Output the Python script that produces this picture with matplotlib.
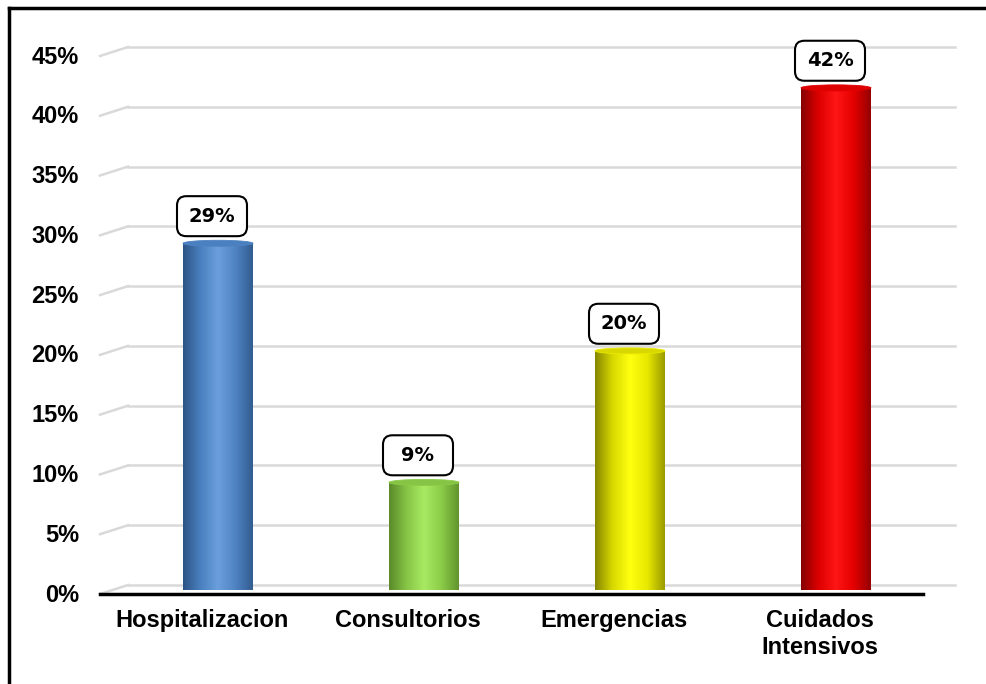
import numpy as np
import matplotlib
matplotlib.use('Agg')
from matplotlib import pyplot
from matplotlib.patches import FancyBboxPatch, Ellipse, Rectangle
from matplotlib.colors import LinearSegmentedColormap
from matplotlib.lines import Line2D

categories = ['Hospitalizacion', 'Consultorios', 'Emergencias', 'Cuidados\nIntensivos']
values = [29, 9, 20, 42]
labels = ['29%', '9%', '20%', '42%']
yticks = [0, 5, 10, 15, 20, 25, 30, 35, 40, 45]

# dark edge, light middle, dark edge
shades = [
    ['#2c5485', '#4a80c0', '#6b9fdc', '#4f83c2', '#325c90'],
    ['#5a8a2a', '#86c445', '#a8ea62', '#8ccc48', '#62942e'],
    ['#858500', '#d8d800', '#ffff10', '#e8e800', '#9a9a00'],
    ['#850000', '#dd0000', '#ff1515', '#e50000', '#950000'],
]

pyplot.rcParams['font.family'] = ['Liberation Sans', 'DejaVu Sans']

fig = pyplot.figure(figsize=(9.87, 6.84), dpi=100)
W, H = 987, 684
# axes = back plane: x 128..955 px, y 47..585 px
ax = fig.add_axes([128 / W, 1 - 585 / H, (955 - 128) / W, (585 - 47) / H])

pxu = 206.0          # pixels per category
pyu = (585 - 47) / 45.0   # pixels per percent
x0 = 218.0           # pixel of first category centre
xl = (128 - x0) / pxu
xr = (955 - x0) / pxu
ax.set_xlim(xl, xr)
ax.set_ylim(0, 45)
ax.axis('off')

dx = (100 - 128) / pxu   # slant of the floor
dy = -9 / pyu

for t in yticks:
    ax.plot([xl, xr], [t, t], color='#d9d9d9', lw=1.8, clip_on=False, zorder=1)
    ax.plot([xl + dx, xl], [t + dy, t], color='#d9d9d9', lw=1.8, clip_on=False, zorder=1)
    ax.text((79 - x0) / pxu, t + dy - 1 / pyu, '%d%%' % t, ha='right', va='center',
            fontsize=17, fontweight='bold', clip_on=False)

# front axis line
ax.plot([xl + dx, (923 - x0) / pxu], [dy, dy], color='black', lw=2.5, clip_on=False, zorder=2)

bw = 70 / pxu
eh = 6 / pyu
base = -5 / pyu
shift = -5 / pyu
for i, v in enumerate(values):
    cmap = LinearSegmentedColormap.from_list('c%d' % i, shades[i])
    grad = np.linspace(0, 1, 256).reshape(1, -1)
    left = i - bw / 2
    top = v + shift
    im = ax.imshow(grad, cmap=cmap, aspect='auto', extent=[left, left + bw, base, top],
                   zorder=3, interpolation='bicubic')
    clip = Rectangle((left, base), bw, top - base, transform=ax.transData)
    im.set_clip_path(clip)
    ax.add_patch(Ellipse((i, base), bw, eh, color=shades[i][2], zorder=2.9, lw=0))
    ax.add_patch(Ellipse((i, top), bw, eh, facecolor=shades[i][1], edgecolor=shades[i][3],
                         lw=0.6, zorder=4))

    # data label box
    bwid = 70 / pxu
    bhei = 40 / pyu
    cx = i - 6 / pxu
    cy = v + 1.85
    box = FancyBboxPatch((cx - bwid / 2, cy - bhei / 2), bwid, bhei,
                         boxstyle='round,pad=0,rounding_size=0.045',
                         mutation_aspect=pxu / pyu,
                         facecolor='white', edgecolor='black', lw=1.5, zorder=5, clip_on=False)
    ax.add_patch(box)
    ax.text(cx, cy, labels[i], ha='center', va='center', fontsize=14,
            fontweight='bold', zorder=6, family=['DejaVu Sans'])

    ax.text(i - 16 / pxu, -24 / pyu, categories[i], ha='center', va='top',
            fontsize=17, fontweight='bold', linespacing=1.25, clip_on=False)

# frame around the chart
fig.add_artist(Line2D([9 / W, 9 / W], [0, 1 - 8 / H], color='black', lw=2.5))
fig.add_artist(Line2D([9 / W, 1], [1 - 8 / H, 1 - 8 / H], color='black', lw=2.5))

pyplot.savefig('out.png', dpi=100)
